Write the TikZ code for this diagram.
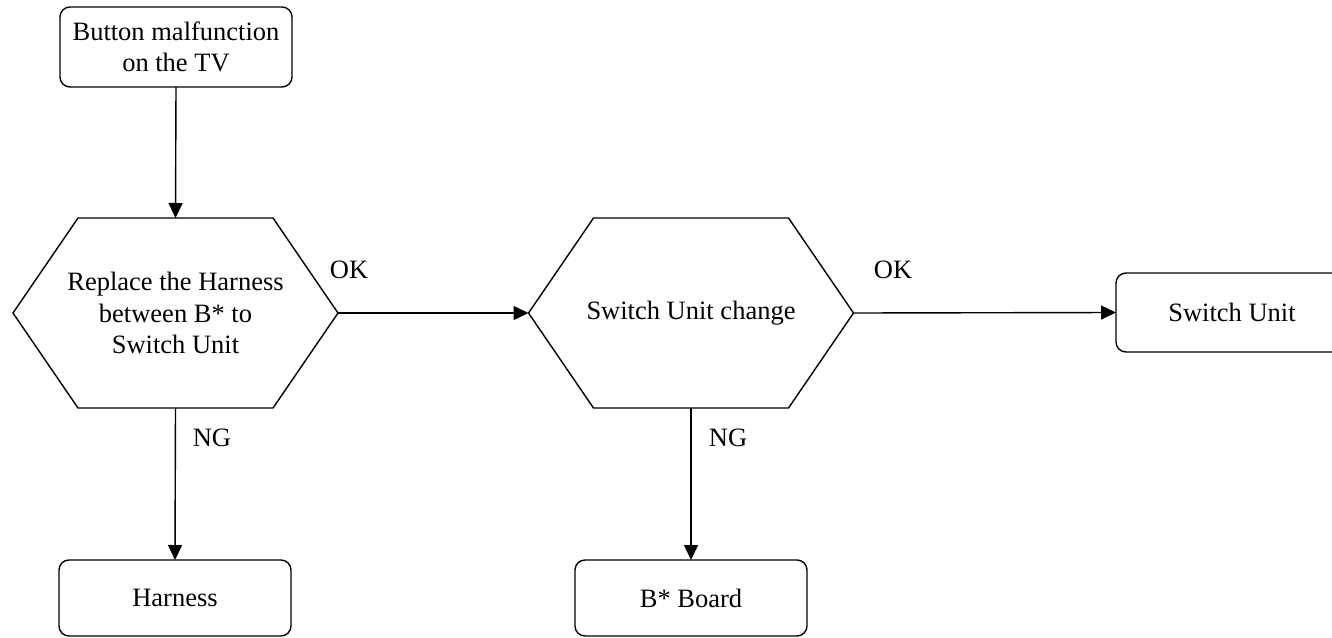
\documentclass[tikz,border=0pt]{standalone}
\usepackage{fontspec}
\setmainfont{Liberation Serif}
\usetikzlibrary{arrows.meta,calc}
\begin{document}
\begin{tikzpicture}[x=1pt,y=-1pt,
  every node/.style={font=\fontsize{26.5}{31.5}\selectfont, inner sep=0pt, outer sep=0pt},
  box/.style={draw, line width=1.4pt, rounded corners=10pt, minimum width=232pt, minimum height=80pt, align=center},
  hexnode/.style={minimum width=325pt, minimum height=190pt, align=center},
  hexline/.style={draw, line width=1.4pt, line join=miter},
  conn/.style={line width=1.4pt, -{Triangle[length=15pt,width=14pt]}},
  lbl/.style={}
]
\useasboundingbox (0,0) rectangle (1332,637);

\node[box] (start) at (176,47) {Button malfunction\\on the TV};

\node[hexnode] (h1) at (175.5,313) {Replace the Harness\\between B* to\\Switch Unit};
\draw[hexline] (h1.west) -- ($(h1.north west)+(65,0)$) -- ($(h1.north east)+(-65,0)$) -- (h1.east)
  -- ($(h1.south east)+(-65,0)$) -- ($(h1.south west)+(65,0)$) -- cycle;

\node[hexnode] (h2) at (691,313) {Switch Unit change};
\draw[hexline] (h2.west) -- ($(h2.north west)+(65,0)$) -- ($(h2.north east)+(-65,0)$) -- (h2.east)
  -- ($(h2.south east)+(-65,0)$) -- ($(h2.south west)+(65,0)$) -- cycle;

\node[box, minimum height=79pt] (su) at (1232,312.5) {Switch Unit};
\node[box, minimum height=76pt] (harness) at (175,598) {Harness};
\node[box, minimum height=76pt] (board) at (691,598) {B* Board};

\draw[conn] (start.south) -- (h1.north);
\draw[conn] (h1.east) -- (h2.west);
\draw[conn] (h2.east) -- (su.west);
\draw[conn] (h1.south) -- (harness.north);
\draw[conn] (h2.south) -- (board.north);

\node[lbl] (ok1) at (349,270) {OK};
\node[lbl] (ok2) at (893,270) {OK};
\node[lbl] (ng1) at (212,438) {NG};
\node[lbl] (ng2) at (728,438) {NG};
\end{tikzpicture}
\end{document}
